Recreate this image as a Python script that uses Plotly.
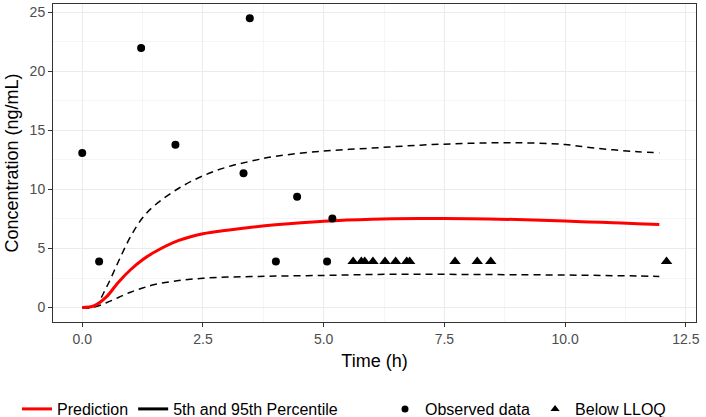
import plotly.graph_objects as go

# simulated profiles
time_sim = [0, 0.25, 0.5, 0.75, 1.0, 1.25, 1.5, 2.0, 2.5, 3.0, 3.5, 4.0, 5.0, 6.0, 7.0, 8.0, 9.0, 10.0, 10.5, 11.0, 11.5, 11.95]
pred = [0, 0.15, 0.9, 2.15, 3.2, 4.05, 4.7, 5.68, 6.25, 6.55, 6.8, 7.0, 7.3, 7.47, 7.53, 7.52, 7.45, 7.32, 7.25, 7.18, 7.1, 7.03]
p95 = [0, 0.05, 1.7, 3.9, 6.0, 7.6, 8.65, 10.1, 11.15, 11.9, 12.4, 12.8, 13.25, 13.5, 13.75, 13.9, 13.95, 13.8, 13.55, 13.35, 13.2, 13.1]
p5 = [0, 0.05, 0.4, 0.85, 1.3, 1.65, 1.95, 2.28, 2.48, 2.58, 2.62, 2.66, 2.72, 2.8, 2.82, 2.8, 2.78, 2.75, 2.73, 2.7, 2.67, 2.63]

# observations
obs_time = [0.0, 0.35, 1.22, 1.93, 3.34, 3.47, 4.01, 4.45, 5.07, 5.18]
obs_conc = [13.08, 3.9, 21.97, 13.78, 11.38, 24.49, 3.9, 9.37, 3.9, 7.54]

blq_time = [5.61, 5.78, 5.85, 6.02, 6.27, 6.49, 6.72, 6.78, 7.72, 8.18, 8.46, 12.1]
blq_conc = [3.9] * len(blq_time)

dash = "7px,5px"
fig = go.Figure()

fig.add_trace(go.Scatter(x=time_sim, y=p95, mode="lines", line=dict(color="black", width=1.5, dash=dash),
                         line_shape="spline", showlegend=False))
fig.add_trace(go.Scatter(x=time_sim, y=p5, mode="lines", line=dict(color="black", width=1.5, dash=dash),
                         line_shape="spline", showlegend=False))
fig.add_trace(go.Scatter(x=time_sim, y=pred, mode="lines", line=dict(color="#FF0000", width=3),
                         line_shape="spline", showlegend=False))
fig.add_trace(go.Scatter(x=obs_time, y=obs_conc, mode="markers",
                         marker=dict(symbol="circle", size=8, color="black"), showlegend=False))
fig.add_trace(go.Scatter(x=blq_time, y=blq_conc, mode="markers",
                         marker=dict(symbol="triangle-up", size=10, color="black"), showlegend=False))

# legend entries (solid line for percentiles, as in the original key)
fig.add_trace(go.Scatter(x=[None], y=[None], mode="lines", line=dict(color="#FF0000", width=3),
                         name="Prediction", legend="legend"))
fig.add_trace(go.Scatter(x=[None], y=[None], mode="lines", line=dict(color="black", width=3),
                         name="5th and 95th Percentile", legend="legend"))
fig.add_trace(go.Scatter(x=[None], y=[None], mode="markers", marker=dict(symbol="circle", size=7, color="black"),
                         name="Observed data", legend="legend2"))
fig.add_trace(go.Scatter(x=[None], y=[None], mode="markers", marker=dict(symbol="triangle-up", size=8, color="black"),
                         name="Below LLOQ", legend="legend2"))

fig.update_layout(
    width=706, height=417,
    margin=dict(l=53, r=10, t=4, b=95),
    plot_bgcolor="white", paper_bgcolor="white",
    font=dict(family="Liberation Sans, Arial", size=14, color="black"),
    legend=dict(orientation="h", xref="container", x=17 / 706, xanchor="left",
                yref="container", y=8 / 417, yanchor="middle",
                font=dict(size=16), itemwidth=30, bgcolor="rgba(0,0,0,0)"),
    legend2=dict(orientation="h", xref="container", x=385 / 706, xanchor="left",
                 yref="container", y=8 / 417, yanchor="middle",
                 font=dict(size=16), itemwidth=30, bgcolor="rgba(0,0,0,0)"),
)
fig.update_xaxes(range=[-0.605, 12.71], tickvals=[0, 2.5, 5, 7.5, 10, 12.5], tickformat=".1f",
                 showgrid=True, gridcolor="#EBEBEB", gridwidth=1,
                 minor=dict(showgrid=True, gridcolor="#F5F5F5", dtick=1.25, tick0=0),
                 ticks="outside", ticklen=4, tickcolor="#333333",
                 tickfont=dict(color="#4D4D4D", size=14),
                 showline=True, linecolor="#333333", linewidth=1, mirror=True, zeroline=False,
                 automargin=False,
                 title=dict(text="Time (h)", font=dict(size=18), standoff=8))
fig.update_yaxes(range=[-1.225, 25.7], tickvals=[0, 5, 10, 15, 20, 25],
                 showgrid=True, gridcolor="#EBEBEB", gridwidth=1,
                 minor=dict(showgrid=True, gridcolor="#F5F5F5", dtick=2.5, tick0=0),
                 ticks="outside", ticklen=4, tickcolor="#333333",
                 tickfont=dict(color="#4D4D4D", size=14),
                 showline=True, linecolor="#333333", linewidth=1, mirror=True, zeroline=False,
                 automargin=False,
                 title=dict(text="Concentration (ng/mL)", font=dict(size=18), standoff=6))

# drop the default 8px page margin so the figure sits at the window's corner
fig.write_html("out.html", config={"displayModeBar": False},
               post_script="document.body.style.margin='0';")
